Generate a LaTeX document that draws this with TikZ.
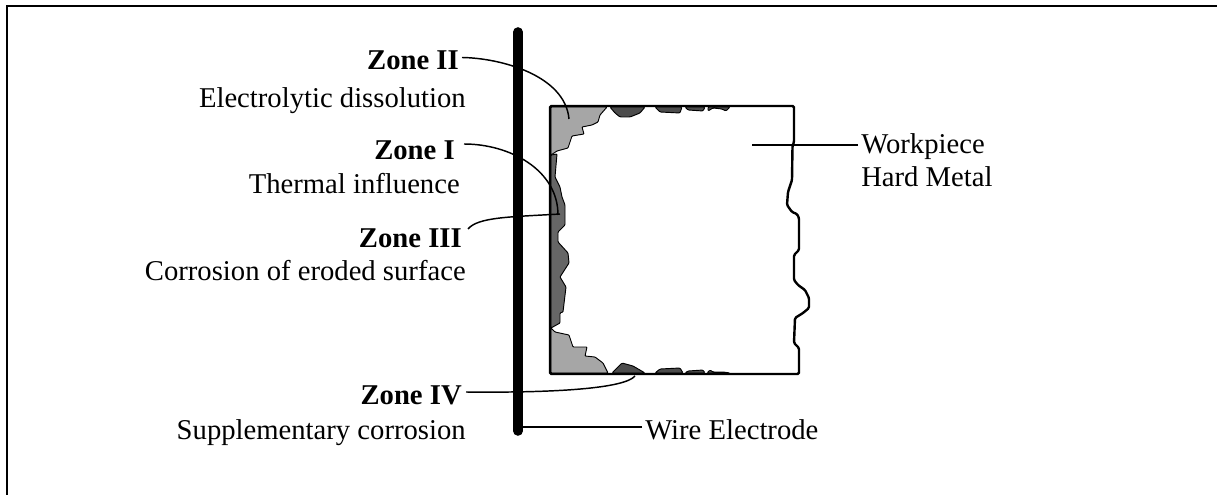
\documentclass[tikz,border=0pt]{standalone}
\usepackage{fontspec}
\setmainfont{Liberation Serif}
\usepackage{tikz}
\tikzstyle{zone-head} = [anchor=base east, inner sep=0pt, font=\fontsize{21.5}{25}\selectfont\bfseries]
\tikzstyle{zone-text} = [anchor=base east, inner sep=0pt, font=\fontsize{21.5}{25}\selectfont]
\tikzstyle{side-text} = [anchor=base west, inner sep=0pt, font=\fontsize{21.5}{25}\selectfont]
\tikzstyle{leader} = [line width=1.1pt]
\tikzstyle{edge-zone} = [draw=black, line width=0.7pt, fill=zonelight, rounded corners=0.6pt]
\tikzstyle{pit-zone} = [draw=black, line width=0.7pt, fill=zonedark, rounded corners=0.8pt]
\definecolor{zonelight}{gray}{0.65}
\definecolor{zonemid}{gray}{0.40}
\definecolor{zonedark}{gray}{0.30}

\begin{document}
\begin{tikzpicture}[x=0.75pt, y=-0.75pt]
\useasboundingbox (0,0) rectangle (1217,495);

% Frame
\draw [line width=1.8pt] (7,495) -- (7,6) -- (1217,6);

% Zones on the workpiece
\draw [edge-zone] (551,107) -- (607,107) -- (600,115) -- (598,122) -- (592,125) -- (582,127) -- (584,134) -- (572,136) -- (568,148) -- (557,151) -- (551,155) -- cycle;
\draw [edge-zone] (551,328) -- (555,332) -- (569,335) -- (573,347) -- (587,347) -- (585,356) -- (595,357) -- (603,363) -- (608,373) -- (551,373) -- cycle;
\draw [edge-zone, fill=zonemid] (551,155) -- (557,154) -- (555,177) -- (560,187) -- (562,197) -- (565,205) -- (565,225) -- (558,232) -- (558,242) -- (568,253) -- (569,263) -- (560,277) -- (566,287) -- (563,312) -- (560,313) -- (560,323) -- (551,328) -- cycle;
\draw [pit-zone] (610,107) -- (615,113) -- (620,117) -- (630,117) -- (640,113) -- (645,107) -- cycle;
\draw [pit-zone] (655,107) -- (660,112) -- (680,113) -- (682,107) -- cycle;
\draw [pit-zone] (685,107) -- (688,110) -- (703,111) -- (705,107) -- cycle;
\draw [pit-zone] (708,107) -- (708,111) -- (713,108) -- (722,109) -- (726,111) -- (730,107) -- cycle;
\draw [pit-zone] (612,373) -- (622,363) -- (633,366) -- (645,373) -- cycle;
\draw [pit-zone] (655,373) -- (660,369) -- (680,368) -- (683,373) -- cycle;
\draw [pit-zone] (685,373) -- (688,371) -- (703,370) -- (705,373) -- cycle;
\draw [pit-zone] (707,373) -- (710,370) -- (713,372) -- (723,372) -- (730,373) -- cycle;

% Workpiece outline
\draw [line width=1.8pt, rounded corners=1pt] (550,106) -- (794,106) -- (794,142) -- (792.5,146) -- (792,180) -- (788,192) -- (787,205) -- (792,212) -- (797,214) -- (799,218) -- (799,250) -- (794,255) -- (794,280) -- (798,285) -- (805,290) -- (809,298) -- (809,308) -- (803,313) -- (795,318) -- (794,343) -- (799,348) -- (799,374) -- (550,374) -- cycle;

% Wire
\coordinate (wire-top) at (518,32);
\coordinate (wire-end) at (518,431);
\draw [line width=7.2pt, line cap=round] (wire-top) -- (wire-end);

% Labels on the left
\node (zone-ii) [zone-head] at (459,70) {Zone II};
\node (zone-ii-text) [zone-text] at (466,108) {Electrolytic dissolution};
\node (zone-i) [zone-head] at (455,160) {Zone I};
\node (zone-i-text) [zone-text] at (460,194) {Thermal influence};
\node (zone-iii) [zone-head] at (462,248) {Zone III};
\node (zone-iii-text) [zone-text] at (466,281) {Corrosion of eroded surface};
\node (zone-iv) [zone-head] at (462,404) {Zone IV};
\node (zone-iv-text) [zone-text] at (466,439) {Supplementary corrosion};

% Labels on the right
\node (work) [side-text] at (861,154) {Workpiece};
\node (work-text) [side-text] at (861,187) {Hard Metal};
\node (wire) [side-text] at (645,439) {Wire Electrode};

% Leader ends
\coordinate (ii-from) at (462,57.5);
\coordinate (ii-to) at (569,119);
\coordinate (i-from) at (464,144);
\coordinate (i-to) at (558,215);
\coordinate (iii-from) at (468,229);
\coordinate (iii-to) at (560,214);
\coordinate (iv-from) at (466,392);
\coordinate (iv-to) at (635,376);
\coordinate (work-to) at (752,145);
\coordinate (work-from) at (858,145);
\coordinate (wire-from) at (642,427);
\coordinate (wire-to) at (518,427);

\draw [leader] (ii-from) .. controls (500,58) and (565,75) .. (ii-to);
\draw [leader] (i-from) .. controls (510,144) and (558,170) .. (i-to);
\draw [leader] (iii-from) .. controls (478,217) and (510,217) .. (iii-to);
\draw [leader] (iv-from) .. controls (560,393) and (625,388) .. (iv-to);
\draw [leader] (work-from) -- (work-to);
\draw [leader] (wire-from) -- (wire-to);

\end{tikzpicture}
\end{document}
